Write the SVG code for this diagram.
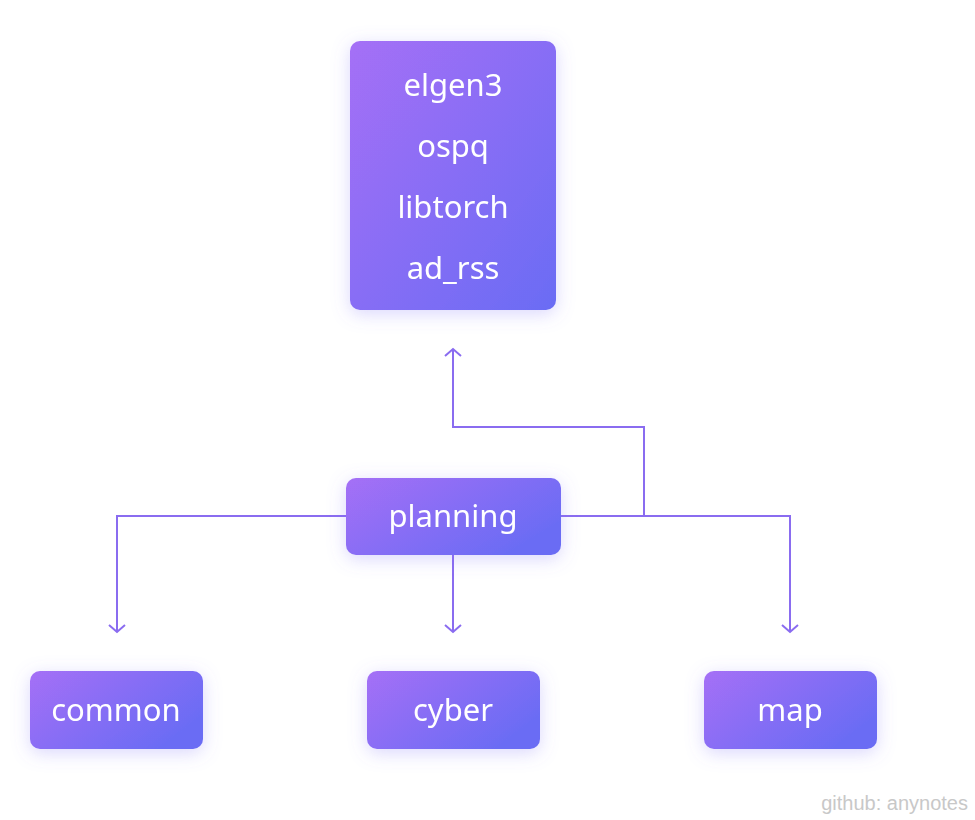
<svg xmlns="http://www.w3.org/2000/svg" width="975" height="820" viewBox="0 0 975 820">
  <defs>
    <linearGradient id="g" x1="0" y1="0" x2="1" y2="1">
      <stop offset="0" stop-color="#a56ff6"/>
      <stop offset="1" stop-color="#6a6cf4"/>
    </linearGradient>
    <linearGradient id="gh" x1="0" y1="0" x2="1" y2="0.6">
      <stop offset="0" stop-color="#a56ff6"/>
      <stop offset="1" stop-color="#6a6cf4"/>
    </linearGradient>
    <filter id="sh" x="-30%" y="-30%" width="160%" height="160%">
      <feDropShadow dx="0" dy="4" stdDeviation="9" flood-color="#7b6cf5" flood-opacity="0.28"/>
    </filter>
    <marker id="arr" viewBox="0 0 20 20" refX="18" refY="10" markerWidth="20" markerHeight="20" markerUnits="userSpaceOnUse" orient="auto">
      <path d="M11 2 L18 10 L11 18" fill="none" stroke="#8a6cf0" stroke-width="2"/>
    </marker>
    <style>
      .n { filter: url(#sh); }
      .lbl { font-family: "Noto Sans", "Open Sans", sans-serif; font-size: 31px; fill: #ffffff; text-anchor: middle; }
      .c { fill: none; stroke: #8a6cf0; stroke-width: 2; }
    </style>
  </defs>
  <rect width="975" height="820" fill="#ffffff"/>
  <g id="connectors">
    <path class="c" d="M346 516 H117 V632" marker-end="url(#arr)"/>
    <path class="c" d="M453 555 V632" marker-end="url(#arr)"/>
    <path class="c" d="M561 516 H790 V632" marker-end="url(#arr)"/>
    <path class="c" d="M644 516 V427 H453 V349" marker-end="url(#arr)"/>
  </g>
  <g id="deps" class="n">
    <rect x="350" y="41" width="206" height="269" rx="10" fill="url(#g)"/>
    <text class="lbl" x="453" y="96">elgen3</text>
    <text class="lbl" x="453" y="157">ospq</text>
    <text class="lbl" x="453" y="218">libtorch</text>
    <text class="lbl" x="453" y="279">ad_rss</text>
  </g>
  <g id="planning" class="n">
    <rect x="346" y="478" width="215" height="77" rx="10" fill="url(#gh)"/>
    <text class="lbl" x="453" y="527">planning</text>
  </g>
  <g id="common" class="n">
    <rect x="30" y="671" width="173" height="78" rx="10" fill="url(#gh)"/>
    <text class="lbl" x="116" y="721">common</text>
  </g>
  <g id="cyber" class="n">
    <rect x="367" y="671" width="173" height="78" rx="10" fill="url(#gh)"/>
    <text class="lbl" x="453" y="721">cyber</text>
  </g>
  <g id="map" class="n">
    <rect x="704" y="671" width="173" height="78" rx="10" fill="url(#gh)"/>
    <text class="lbl" x="790" y="721">map</text>
  </g>
  <text x="968" y="810" font-family="Liberation Sans, Arial, sans-serif" font-size="20" fill="#c8c8c8" text-anchor="end">github: anynotes</text>
</svg>
